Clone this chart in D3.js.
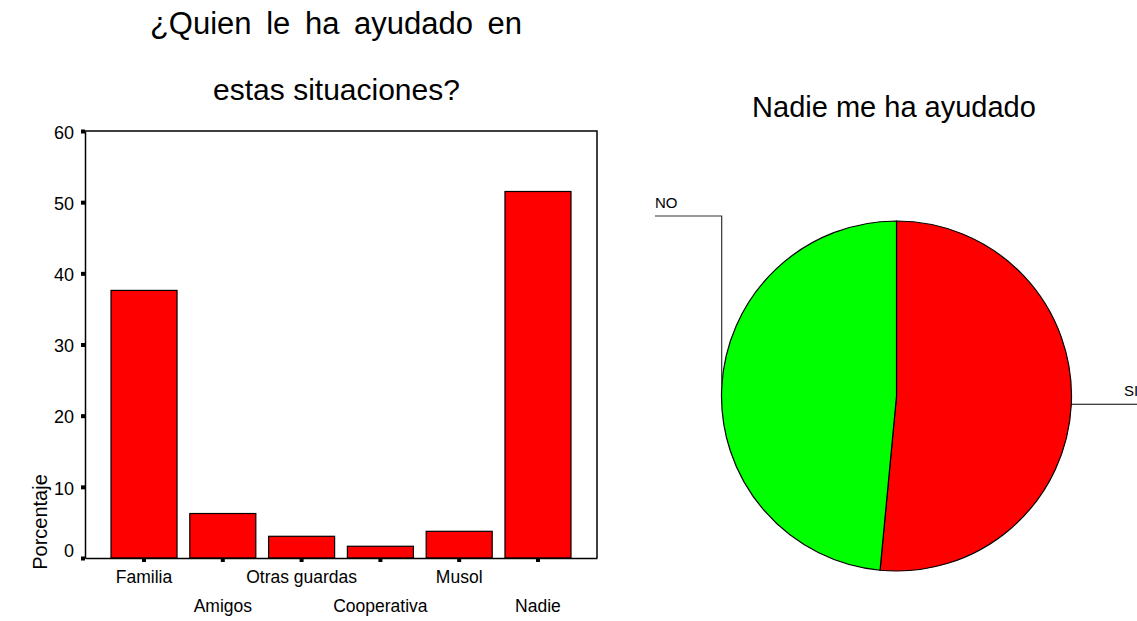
<!DOCTYPE html>
<html>
<head>
<meta charset="utf-8">
<script src="https://cdn.jsdelivr.net/npm/d3@7"></script>
<style>
  html, body { margin: 0; padding: 0; background: #ffffff; }
  svg { display: block; }
  text { font-family: "Liberation Sans", Arial, Helvetica, sans-serif; fill: #000; }
</style>
</head>
<body>
<svg id="chart" width="1137" height="621"></svg>
<script>
// ---- Data ----
const barTitleLines = ["¿Quien le ha ayudado en", "estas situaciones?"];
const categories = ["Familia", "Amigos", "Otras guardas", "Cooperativa", "Musol", "Nadie"];
const percentages = [37.6, 6.25, 3.05, 1.65, 3.75, 51.5];
const yTicks = [0, 10, 20, 30, 40, 50, 60];
const yAxisLabel = "Porcentaje";

const pieTitle = "Nadie me ha ayudado";
const pieLabels = ["SI", "NO"];
const pieValues = [51.5, 48.5];
const pieColors = ["#ff0000", "#00ff00"];

// ---- Layout ----
const svg = d3.select("#chart");
const plot = { left: 85, right: 597, top: 131, bottom: 558 };

// Titles
svg.append("text").attr("x", 336).attr("y", 34).attr("text-anchor", "middle")
  .style("font-size", "31px").style("word-spacing", "6px").text(barTitleLines[0]);
svg.append("text").attr("x", 336.5).attr("y", 100).attr("text-anchor", "middle")
  .style("font-size", "30px").text(barTitleLines[1]);

// Scales
const x = d3.scaleBand().domain(categories).range([plot.left, plot.right])
  .paddingInner(0.162).paddingOuter(0.33);
const y = d3.scaleLinear().domain([0, 60]).range([plot.bottom, plot.top]);

// Frame (top & right)
svg.append("path")
  .attr("d", `M${plot.left},${plot.top}H${plot.right}V${plot.bottom}`)
  .attr("fill", "none").attr("stroke", "#000").attr("stroke-width", 1.5);

// Bars
svg.append("g").selectAll("rect").data(categories).join("rect")
  .attr("x", d => x(d))
  .attr("width", x.bandwidth())
  .attr("y", (d, i) => y(percentages[i]))
  .attr("height", (d, i) => y(0) - y(percentages[i]))
  .attr("fill", "#ff0000").attr("stroke", "#000").attr("stroke-width", 1.2);

// Y axis
const yAxis = svg.append("g").attr("transform", `translate(${plot.left},0)`)
  .call(d3.axisLeft(y).tickValues(yTicks).tickSizeInner(4).tickSizeOuter(0).tickPadding(7));
yAxis.select(".domain").attr("stroke", "#000").attr("stroke-width", 1.5);
yAxis.selectAll(".tick line").attr("stroke", "#000").attr("stroke-width", 4);
yAxis.selectAll(".tick text").style("font-size", "18px")
  .style("font-family", "'Liberation Sans', Arial, sans-serif")
  .attr("dy", d => d === 0 ? "-0.1em" : "0.4em");

// X axis
const xAxis = svg.append("g").attr("transform", `translate(0,${plot.bottom})`)
  .call(d3.axisBottom(x).tickSizeInner(4).tickSizeOuter(0).tickPadding(0));
xAxis.select(".domain").attr("stroke", "#000").attr("stroke-width", 1.5);
xAxis.selectAll(".tick line").attr("stroke", "#000").attr("stroke-width", 4);
xAxis.selectAll(".tick text").style("font-size", "17.5px")
  .style("font-family", "'Liberation Sans', Arial, sans-serif")
  .attr("y", (d, i) => i % 2 === 0 ? 25 : 54).attr("dy", 0);

// Y axis title
svg.append("text")
  .attr("transform", "translate(47,522) rotate(-90)")
  .attr("text-anchor", "middle").style("font-size", "20px").text(yAxisLabel);

// ---- Pie ----
const cx = 896.5, cy = 396, r = 175;
svg.append("text").attr("x", 894).attr("y", 117).attr("text-anchor", "middle")
  .style("font-size", "29px").text(pieTitle);

const pie = d3.pie().sort(null).value(d => d)(pieValues);
const arc = d3.arc().innerRadius(0).outerRadius(r);
const edge = d3.arc().innerRadius(r).outerRadius(r);
const pg = svg.append("g").attr("transform", `translate(${cx},${cy})`);
pg.selectAll("path").data(pie).join("path")
  .attr("d", arc)
  .attr("fill", (d, i) => pieColors[i])
  .attr("stroke", "#000").attr("stroke-width", 1.2);

// Leader lines & labels
const pSI = edge.centroid(pie[0]);
const pNO = edge.centroid(pie[1]);
pg.append("path")
  .attr("d", `M${pSI[0]},${pSI[1]}H${r + 80}`)
  .attr("fill", "none").attr("stroke", "#000").attr("stroke-width", 1.2);
pg.append("text").attr("x", 227.5).attr("y", pSI[1] - 8)
  .style("font-size", "15px").text(pieLabels[0]);

const noTop = -180;
pg.append("path")
  .attr("d", `M${pNO[0]},${pNO[1]}V${noTop}H${-241.5}`)
  .attr("fill", "none").attr("stroke", "#333").attr("stroke-width", 1.2);
pg.append("text").attr("x", -241.5).attr("y", noTop - 8)
  .style("font-size", "15px").text(pieLabels[1]);
</script>
</body>
</html>
